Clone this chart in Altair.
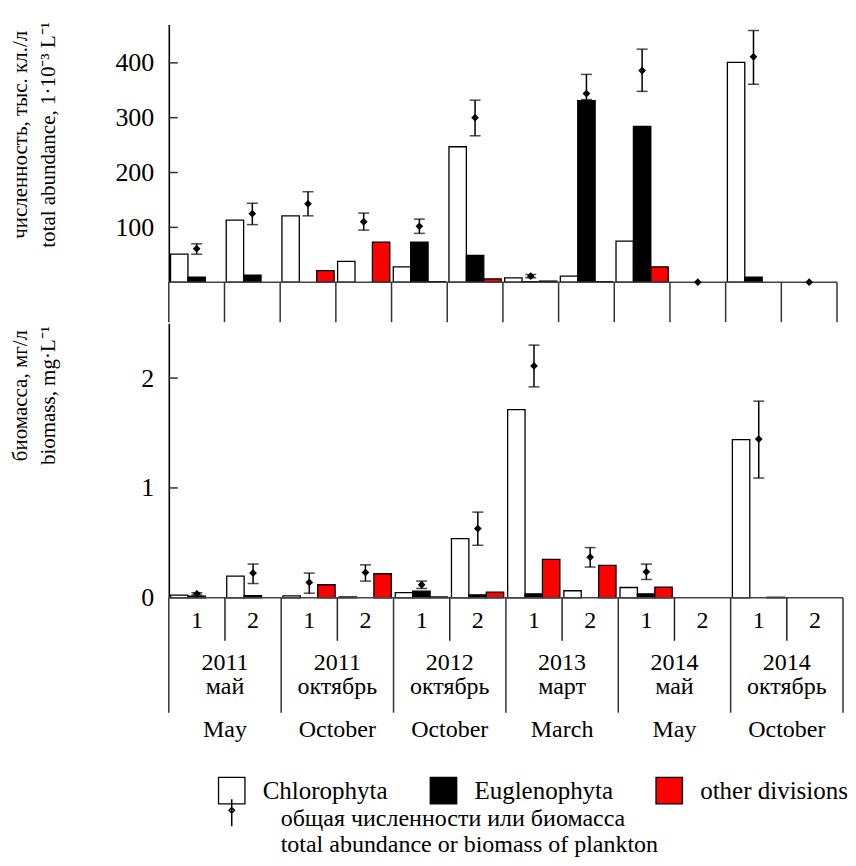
import altair as alt
import pandas as pd

FONT = "Liberation Serif"

years = ["2011", "2011", "2012", "2013", "2014", "2014"]
months_ru = ["май", "октябрь", "октябрь", "март", "май", "октябрь"]
months_en = ["May", "October", "October", "March", "May", "October"]
sites = ["1", "2"]
divisions = ["Chlorophyta", "Euglenophyta", "other divisions"]
div_colors = ["#ffffff", "#000000", "#ff0000"]

# total abundance, 10^3 cells per litre (12 samples: 6 surveys x 2 sites)
abund_chloro = [51, 113, 121, 38, 28, 247, 8, 11, 75, 0, 401, 0]
abund_eugl = [9, 13, 0, 0, 73, 49, 1, 331, 284, 0, 9, 0]
abund_other = [0, 0, 21, 73, 1, 6, 2, 1, 28, 0, 0, 0]
abund_total = [61, 125, 143, 110, 102, 300, 11, 344, 386, 0, 411, 0]
abund_lo = [51, 105, 121, 95, 89, 267, 8, 333, 348, None, 361, None]
abund_hi = [70, 144, 165, 126, 115, 332, 14, 379, 425, None, 459, None]

# biomass, mg per litre
bio_chloro = [0.024, 0.197, 0.018, 0.008, 0.048, 0.539, 1.713, 0.064, 0.094, 0, 1.44, 0]
bio_eugl = [0.015, 0.02, 0, 0, 0.06, 0.027, 0.036, 0, 0.036, 0, 0, 0]
bio_other = [0, 0, 0.119, 0.219, 0.008, 0.051, 0.35, 0.295, 0.097, 0, 0.005, 0]
bio_total = [0.036, 0.225, 0.14, 0.231, 0.119, 0.63, 2.11, 0.37, 0.237, None, 1.445, None]
bio_lo = [0.026, 0.13, 0.042, 0.152, 0.085, 0.478, 1.92, 0.28, 0.167, None, 1.09, None]
bio_hi = [0.046, 0.307, 0.225, 0.30, 0.152, 0.78, 2.30, 0.457, 0.307, None, 1.79, None]

abund_ticks = [100, 200, 300, 400]
bio_ticks = [0, 1, 2]

keys = [f"{y} {m} {s}" for y, m in zip(years, months_en) for s in sites]
site_of = [s for _ in years for s in sites]


def bars_frame(ch, eu, ot):
    rows = []
    for i, k in enumerate(keys):
        for d, arr in zip(divisions, (ch, eu, ot)):
            rows.append({"key": k, "division": d, "value": arr[i]})
    return pd.DataFrame(rows)


def pts_frame(tot, lo, hi):
    return pd.DataFrame({"key": keys, "total": tot, "lo": lo, "hi": hi})


def xenc(bp=None, field="key"):
    kw = dict(sort=keys, scale=alt.Scale(domain=keys, paddingInner=0, paddingOuter=0), axis=None)
    if bp is not None:
        kw["bandPosition"] = bp
    return alt.X(f"{field}:N", **kw)


color_legend = alt.Legend(
    title=None, orient="none", legendX=49, legendY=753, direction="horizontal",
    symbolType="square", symbolSize=700, symbolStrokeColor="black", symbolStrokeWidth=1.3,
    labelFont=FONT, labelFontSize=25, labelColor="black", labelOffset=17, columnPadding=40,
    labelLimit=300,
)


def panel(bars_df, pts_df, W, H, ymax, ticks, title, title_y, tick_labels, bottom):
    yscale = alt.Scale(domain=[0, ymax], nice=False, zero=True)
    base_bars = alt.Chart(bars_df).transform_filter("datum.value > 0").mark_bar(
        stroke="black", strokeWidth=1.3
    ).encode(
        x=xenc(),
        xOffset=alt.XOffset("division:N", sort=divisions,
                            scale=alt.Scale(domain=divisions, paddingInner=0, paddingOuter=0.1)),
        y=alt.Y("value:Q", scale=yscale, axis=alt.Axis(
            values=tick_labels, format="d", ticks=False, tickSize=0, grid=False, domainColor="black",
            domainWidth=1.6, labelFont=FONT, labelFontSize=26, labelColor="black", labelPadding=15,
            title=title, titleFont=FONT, titleFontSize=21, titleFontWeight="normal",
            titleColor="black", titleLineHeight=28, titleAngle=-90, titleAlign="center",
            titleBaseline="top", titleX=-159, titleY=title_y)),
        color=alt.Color("division:N", scale=alt.Scale(domain=divisions, range=div_colors),
                        legend=color_legend),
    )
    baseline = alt.Chart(pd.DataFrame({"v": [0]})).mark_rule(color="#444", strokeWidth=1.5).encode(
        y=alt.Y("v:Q", scale=yscale), x=alt.value(0), x2=alt.value(W))
    tick_df = pd.DataFrame({"v": ticks})
    inner_ticks = alt.Chart(tick_df).mark_rule(color="#333", strokeWidth=1.5).encode(
        y=alt.Y("v:Q", scale=yscale), x=alt.value(0), x2=alt.value(9))
    pts = alt.Chart(pts_df).transform_filter("isValid(datum.total)")
    err = pts.transform_filter("isValid(datum.lo)").mark_rule(color="black", strokeWidth=1.5).encode(
        x=xenc(), y=alt.Y("lo:Q", scale=yscale), y2="hi:Q")
    cap_lo = pts.transform_filter("isValid(datum.lo)").mark_tick(
        color="black", thickness=1.5, size=11, orient="horizontal").encode(
        x=xenc(), y=alt.Y("lo:Q", scale=yscale))
    cap_hi = pts.transform_filter("isValid(datum.hi)").mark_tick(
        color="black", thickness=1.5, size=11, orient="horizontal").encode(
        x=xenc(), y=alt.Y("hi:Q", scale=yscale))
    dots = pts.mark_point(shape="diamond", filled=True, color="black", size=60, opacity=1).encode(
        x=xenc(), y=alt.Y("total:Q", scale=yscale))
    layers = [base_bars, baseline, inner_ticks, err, cap_lo, cap_hi, dots]

    kdf = pd.DataFrame({"key": keys, "site": site_of})
    if not bottom:
        seps = alt.Chart(kdf).mark_rule(color="#333", strokeWidth=1.5).encode(
            x=xenc(0), y=alt.value(H), y2=alt.value(H + 40))
        end = alt.Chart(kdf.tail(1)).mark_rule(color="#333", strokeWidth=1.5).encode(
            x=xenc(1), y=alt.value(H), y2=alt.value(H + 40))
        layers += [seps, end]
    else:
        tstyle = dict(font=FONT, fontSize=24, color="black", baseline="middle")
        site_sep = alt.Chart(kdf[kdf.site == "2"]).mark_rule(color="#222", strokeWidth=1.5).encode(
            x=xenc(0), y=alt.value(H), y2=alt.value(H + 43))
        per_sep = alt.Chart(kdf[kdf.site == "1"]).mark_rule(color="#333", strokeWidth=1.5).encode(
            x=xenc(0), y=alt.value(H), y2=alt.value(H + 115))
        end = alt.Chart(kdf.tail(1)).mark_rule(color="#333", strokeWidth=1.5).encode(
            x=xenc(1), y=alt.value(H), y2=alt.value(H + 115))
        site_txt = alt.Chart(kdf).mark_text(**tstyle).encode(
            x=xenc(), y=alt.value(H + 23), text="site:N")
        pdf = pd.DataFrame({"key": [keys[2 * i + 1] for i in range(len(years))],
                            "year": years, "ru": months_ru, "en": months_en})
        yr_txt = alt.Chart(pdf).mark_text(**tstyle).encode(
            x=xenc(0), y=alt.value(H + 65), text="year:N")
        ru_txt = alt.Chart(pdf).mark_text(**tstyle).encode(
            x=xenc(0), y=alt.value(H + 89), text="ru:N")
        en_txt = alt.Chart(pdf).mark_text(**tstyle).encode(
            x=xenc(0), y=alt.value(H + 132), text="en:N")
        sym = alt.Chart(pts_df).transform_filter("isValid(datum.total)").transform_calculate(
            kind="'total'").mark_point(opacity=0).encode(
            x=xenc(), y=alt.Y("total:Q", scale=yscale),
            shape=alt.Shape("kind:N", scale=alt.Scale(
                domain=["total"],
                range=["M0,-0.6L0,1.6M-0.22,0.3L0,0.08L0.22,0.3L0,0.52Z"]),
                legend=alt.Legend(
                    title=None, orient="none", legendX=50, legendY=770, symbolSize=600,
                    symbolOpacity=1, symbolFillColor="black", symbolStrokeColor="black",
                    symbolStrokeWidth=1.5, labelFont=FONT, labelFontSize=24, labelColor="black",
                    labelOffset=36, labelLimit=600, labelBaseline="top",
                    labelExpr="['общая численности или биомасса', 'total abundance or biomass of plankton']")))
        layers += [site_sep, per_sep, end, site_txt, yr_txt, ru_txt, en_txt, sym]
    return alt.layer(*layers).properties(width=W, height=H)


top = panel(bars_frame(abund_chloro, abund_eugl, abund_other),
            pts_frame(abund_total, abund_lo, abund_hi),
            669, 258, 470, abund_ticks,
            ["численность, тыс. кл./л", "total abundance, 1·10⁻³ L⁻¹"], 110, abund_ticks, False)
bottom = panel(bars_frame(bio_chloro, bio_eugl, bio_other),
               pts_frame(bio_total, bio_lo, bio_hi),
               675, 275, 2.5, [1, 2],
               ["биомасса, мг/л", "biomass, mg·L⁻¹"], 72, bio_ticks, True)

chart = alt.vconcat(top, bottom, spacing=41, bounds="flush").properties(
    padding={"left": 2, "top": 12, "right": 0, "bottom": 2}
).configure(font=FONT).configure_view(stroke=None)

chart.save("out.html", embed_options={"renderer": "svg", "actions": False})
